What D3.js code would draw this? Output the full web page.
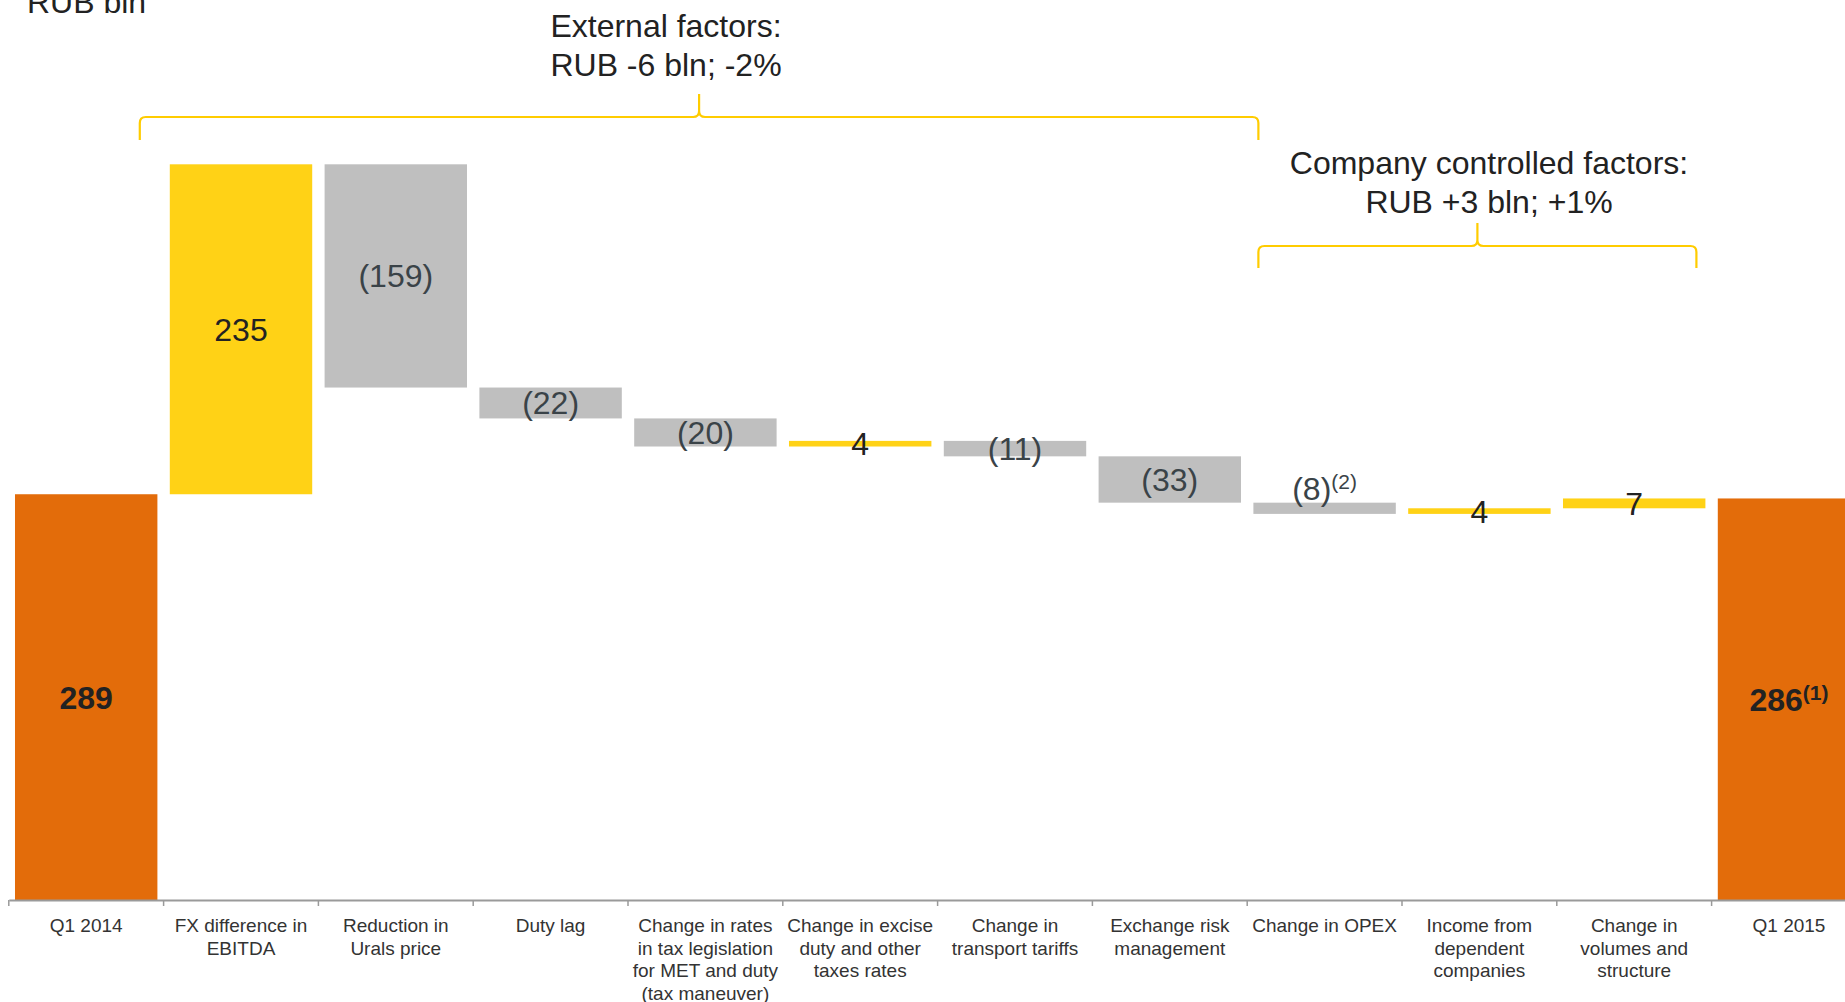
<!DOCTYPE html>
<html>
<head>
<meta charset="utf-8">
<script src="https://cdn.jsdelivr.net/npm/d3@7"></script>
<style>
  html, body { margin: 0; padding: 0; background: #fff; overflow: hidden; }
  svg { display: block; font-family: "Liberation Sans", Arial, sans-serif; }
</style>
</head>
<body>
<div id="chart"></div>
<script>
// waterfall data, RUB bln
var categories = [
  "Q1 2014",
  "FX difference in\nEBITDA",
  "Reduction in\nUrals price",
  "Duty lag",
  "Change in rates\nin tax legislation\nfor MET and duty\n(tax maneuver)",
  "Change in excise\nduty and other\ntaxes rates",
  "Change in\ntransport tariffs",
  "Exchange risk\nmanagement",
  "Change in OPEX",
  "Income from\ndependent\ncompanies",
  "Change in\nvolumes and\nstructure",
  "Q1 2015"
];
var values = [289, 235, -159, -22, -20, 4, -11, -33, -8, 4, 7, 286];
var isTotal = [true, false, false, false, false, false, false, false, false, false, false, true];
var footnotes = ["", "", "", "", "", "", "", "", "(2)", "", "", "(1)"];

var groupNames = ["External factors:", "Company controlled factors:"];
var groupValues = ["RUB -6 bln; -2%", "RUB +3 bln; +1%"];
var groupFirst = [1, 8];
var groupLast = [7, 10];

var unitLabel = "RUB bln";

var width = 1845,
  height = 1002;

var colors = { total: "#E36C0A", up: "#FFD216", down: "#BFBFBF", brace: "#FFCC00" };

// running totals for each step
var cum = 0;
var steps = values.map(function(v, i) {
  var s;
  if (isTotal[i]) {
    s = { start: 0, end: v };
    cum = v;
  } else {
    s = { start: cum, end: cum + v };
    cum += v;
  }
  s.name = categories[i];
  s.value = v;
  s.total = isTotal[i];
  s.note = footnotes[i];
  return s;
});

var svg = d3
  .select("#chart")
  .append("svg")
  .attr("width", width)
  .attr("height", height);

var xScale = d3
  .scaleBand()
  .domain(categories)
  .range([8.8, 8.8 + 12 * 154.8])
  .paddingInner(0.08)
  .paddingOuter(0.04);

var yScale = d3
  .scaleLinear()
  .domain([0, 600])
  .range([900, 57.6]);

var halfGap = (xScale.step() - xScale.bandwidth()) / 2;

// bars
svg
  .selectAll(".bar")
  .data(steps)
  .enter()
  .append("rect")
  .attr("class", "bar")
  .attr("x", function(d) { return xScale(d.name); })
  .attr("width", xScale.bandwidth())
  .attr("y", function(d) { return yScale(Math.max(d.start, d.end)); })
  .attr("height", function(d) { return Math.abs(yScale(d.start) - yScale(d.end)); })
  .attr("fill", function(d) {
    if (d.total) return colors.total;
    return d.value > 0 ? colors.up : colors.down;
  });

// x axis: plain line plus ticks at band boundaries
var axisG = svg
  .append("g")
  .attr("transform", "translate(0,900)")
  .call(d3.axisBottom(xScale).tickSize(0).tickFormat(""));
axisG.select(".domain").attr("stroke", "#9a9a9a").attr("stroke-width", 2);

svg
  .selectAll(".sep")
  .data(categories)
  .enter()
  .append("line")
  .attr("class", "sep")
  .attr("x1", function(d) { return xScale(d) - halfGap; })
  .attr("x2", function(d) { return xScale(d) - halfGap; })
  .attr("y1", 900)
  .attr("y2", 906)
  .attr("stroke", "#9a9a9a")
  .attr("stroke-width", 1.5);

// category labels
var catText = svg
  .selectAll(".cat")
  .data(categories)
  .enter()
  .append("text")
  .attr("class", "cat")
  .attr("text-anchor", "middle")
  .attr("font-size", 19)
  .attr("fill", "#333");
catText
  .selectAll("tspan")
  .data(function(d) {
    return d.split("\n").map(function(t) { return { text: t, cat: d }; });
  })
  .enter()
  .append("tspan")
  .attr("x", function(d) { return xScale(d.cat) + xScale.bandwidth() / 2; })
  .attr("y", function(d, i) { return 932 + i * 22.7; })
  .text(function(d) { return d.text; });

// value labels
var valText = svg
  .selectAll(".val")
  .data(steps)
  .enter()
  .append("text")
  .attr("class", "val")
  .attr("text-anchor", "middle")
  .attr("font-size", 32)
  .attr("font-weight", function(d) { return d.total ? "bold" : "normal"; })
  .attr("fill", function(d) { return d.value < 0 ? "#3a4348" : "#222"; })
  .attr("x", function(d) { return xScale(d.name) + xScale.bandwidth() / 2; })
  .attr("y", function(d) {
    var top = yScale(Math.max(d.start, d.end));
    var bottom = yScale(Math.min(d.start, d.end));
    if (d.note && !d.total) return top - 3; // footnoted small bar: label sits above
    return (top + bottom) / 2 + 11.5;
  });
valText.append("tspan").text(function(d) {
  return d.value < 0 ? "(" + Math.abs(d.value) + ")" : d.value;
});
valText
  .filter(function(d) { return d.note; })
  .append("tspan")
  .attr("font-size", 21)
  .attr("dy", -11)
  .text(function(d) { return d.note; });

// unit label
svg
  .append("text")
  .attr("x", 27)
  .attr("y", 13)
  .attr("font-size", 32)
  .attr("fill", "#222")
  .text(unitLabel);

// curly braces over the factor groups
function bracePath(x0, x1, yh, yb, yt) {
  var r = 6,
    xc = (x0 + x1) / 2;
  return (
    "M" + x0 + "," + yb +
    "L" + x0 + "," + (yh + r) +
    "Q" + x0 + "," + yh + " " + (x0 + r) + "," + yh +
    "L" + (xc - r) + "," + yh +
    "Q" + xc + "," + yh + " " + xc + "," + (yh - r) +
    "L" + xc + "," + yt +
    "L" + xc + "," + (yh - r) +
    "Q" + xc + "," + yh + " " + (xc + r) + "," + yh +
    "L" + (x1 - r) + "," + yh +
    "Q" + x1 + "," + yh + " " + x1 + "," + (yh + r) +
    "L" + x1 + "," + yb
  );
}

var braceLayout = [
  { x0: xScale(categories[groupFirst[0]]) - 30, x1: xScale(categories[groupLast[0] + 1]) + 5, yh: 117, yb: 140, yt: 94, tx: 666, ty: 37 },
  { x0: xScale(categories[groupFirst[1]]) + 5, x1: xScale(categories[groupLast[1]]) + xScale.bandwidth() - 9, yh: 246, yb: 268, yt: 223, tx: 1489, ty: 174 }
];

braceLayout.forEach(function(b, i) {
  svg
    .append("path")
    .attr("d", bracePath(b.x0, b.x1, b.yh, b.yb, b.yt))
    .attr("fill", "none")
    .attr("stroke", colors.brace)
    .attr("stroke-width", 2.2);

  var t = svg
    .append("text")
    .attr("text-anchor", "middle")
    .attr("font-size", 32)
    .attr("fill", "#222");
  t.append("tspan").attr("x", b.tx).attr("y", b.ty).text(groupNames[i]);
  t.append("tspan").attr("x", b.tx).attr("y", b.ty + 38.5).text(groupValues[i]);
});
</script>
</body>
</html>
